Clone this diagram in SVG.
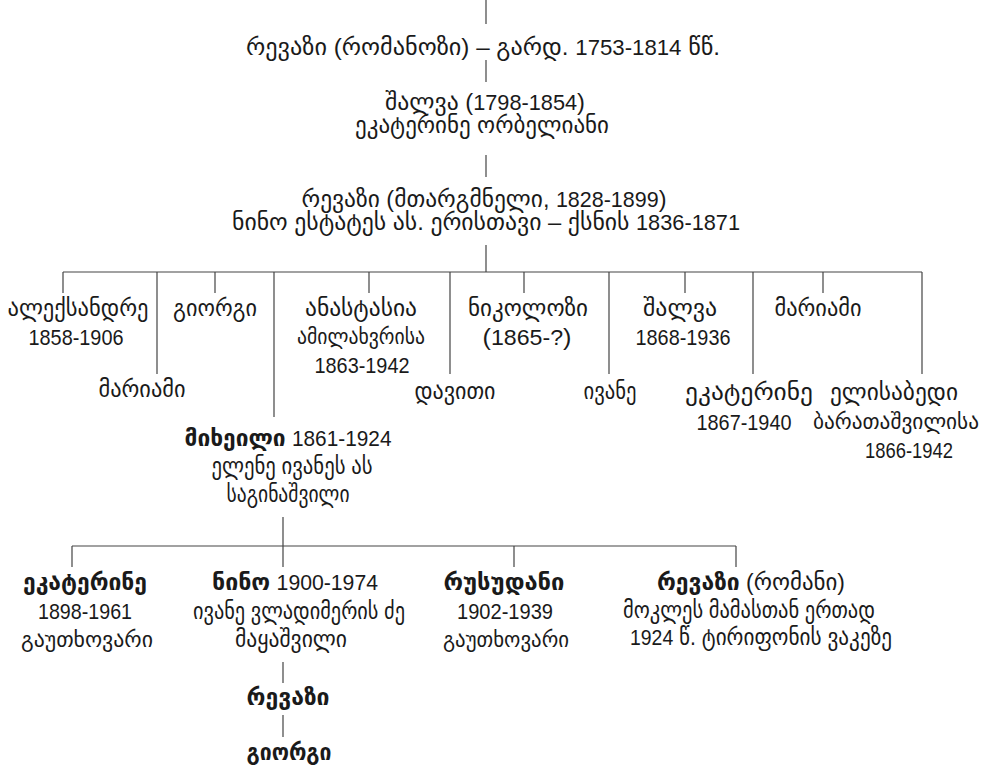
<svg xmlns="http://www.w3.org/2000/svg" width="981" height="769" viewBox="0 0 981 769">
<style>
text{font-family:"Liberation Sans","DejaVu Sans",sans-serif;font-size:24px;fill:#1a1a1a;text-anchor:middle}
.s{font-size:21px}
.b{font-weight:bold}
.d{font-size:22px}
.c line{stroke:#444;stroke-width:1.2}
</style>
<rect width="981" height="769" fill="#fff"/>
<g class="c" id="connectors">
<line x1="486" y1="0" x2="486" y2="24"/>
<line x1="486" y1="60" x2="486" y2="82"/>
<line x1="486" y1="155" x2="486" y2="177"/>
<line x1="486" y1="245" x2="486" y2="272"/>
<line x1="63" y1="272" x2="922" y2="272"/>
<line x1="63" y1="272" x2="63" y2="293"/>
<line x1="157" y1="272" x2="157" y2="374"/>
<line x1="215" y1="272" x2="215" y2="293"/>
<line x1="274" y1="272" x2="274" y2="417"/>
<line x1="369" y1="272" x2="369" y2="293"/>
<line x1="450" y1="272" x2="450" y2="374"/>
<line x1="524" y1="272" x2="524" y2="293"/>
<line x1="609" y1="272" x2="609" y2="374"/>
<line x1="685" y1="272" x2="685" y2="293"/>
<line x1="753" y1="272" x2="753" y2="374"/>
<line x1="823" y1="272" x2="823" y2="293"/>
<line x1="922" y1="272" x2="922" y2="374"/>
<line x1="283" y1="517" x2="283" y2="546"/>
<line x1="72" y1="546" x2="736" y2="546"/>
<line x1="72" y1="546" x2="72" y2="567"/>
<line x1="283" y1="546" x2="283" y2="567"/>
<line x1="514" y1="546" x2="514" y2="567"/>
<line x1="736" y1="546" x2="736" y2="567"/>
<line x1="283" y1="662" x2="283" y2="683"/>
<line x1="283" y1="715" x2="283" y2="737"/>
</g>
<g id="n-revazi-romanozi"><text x="483" y="55" textLength="474" lengthAdjust="spacingAndGlyphs">რევაზი (რომანოზი) – გარდ. <tspan class="d">1753-1814</tspan> წწ.</text></g>
<g id="n-shalva"><text x="485" y="110" textLength="200" lengthAdjust="spacingAndGlyphs">შალვა (<tspan class="d">1798-1854</tspan>)</text><text x="482" y="133" textLength="254" lengthAdjust="spacingAndGlyphs">ეკატერინე ორბელიანი</text></g>
<g id="n-revazi-targmneli"><text x="484" y="207" textLength="365" lengthAdjust="spacingAndGlyphs">რევაზი (მთარგმნელი, <tspan class="d">1828-1899</tspan>)</text><text x="486" y="230" textLength="508" lengthAdjust="spacingAndGlyphs">ნინო ესტატეს ას. ერისთავი – ქსნის <tspan class="d">1836-1871</tspan></text></g>
<g id="n-aleksandre"><text x="78" y="316" textLength="141" lengthAdjust="spacingAndGlyphs">ალექსანდრე</text><text class="d" x="76" y="345" textLength="95" lengthAdjust="spacingAndGlyphs">1858-1906</text></g>
<g id="n-mariami1"><text x="142" y="397" textLength="87" lengthAdjust="spacingAndGlyphs">მარიამი</text></g>
<g id="n-giorgi1"><text x="215" y="316" textLength="84" lengthAdjust="spacingAndGlyphs">გიორგი</text></g>
<g id="n-mikheili"><text x="288" y="446" textLength="207" lengthAdjust="spacingAndGlyphs"><tspan class="b">მიხეილი</tspan> <tspan class="d">1861-1924</tspan></text><text x="292" y="474" textLength="161" lengthAdjust="spacingAndGlyphs">ელენე ივანეს ას</text><text x="288" y="502" textLength="123" lengthAdjust="spacingAndGlyphs">საგინაშვილი</text></g>
<g id="n-anastasia"><text x="361" y="316" textLength="112" lengthAdjust="spacingAndGlyphs">ანასტასია</text><text class="s" x="361" y="344" textLength="128" lengthAdjust="spacingAndGlyphs">ამილახვრისა</text><text class="d" x="362" y="373" textLength="95" lengthAdjust="spacingAndGlyphs">1863-1942</text></g>
<g id="n-daviti"><text x="455" y="399" textLength="81" lengthAdjust="spacingAndGlyphs">დავითი</text></g>
<g id="n-nikolozi"><text x="528" y="316" textLength="120" lengthAdjust="spacingAndGlyphs">ნიკოლოზი</text><text x="527" y="345" textLength="89" lengthAdjust="spacingAndGlyphs">(<tspan class="d">1865-?</tspan>)</text></g>
<g id="n-ivane"><text x="610" y="399" textLength="53" lengthAdjust="spacingAndGlyphs">ივანე</text></g>
<g id="n-shalva2"><text x="680" y="316" textLength="74" lengthAdjust="spacingAndGlyphs">შალვა</text><text class="d" x="683" y="345" textLength="95" lengthAdjust="spacingAndGlyphs">1868-1936</text></g>
<g id="n-ekaterine1"><text x="749" y="400" textLength="128" lengthAdjust="spacingAndGlyphs">ეკატერინე</text><text class="d" x="744" y="430" textLength="95" lengthAdjust="spacingAndGlyphs">1867-1940</text></g>
<g id="n-mariami2"><text x="818" y="316" textLength="87" lengthAdjust="spacingAndGlyphs">მარიამი</text></g>
<g id="n-elisabedi"><text x="894" y="400" textLength="128" lengthAdjust="spacingAndGlyphs">ელისაბედი</text><text class="s" x="896" y="429" textLength="166" lengthAdjust="spacingAndGlyphs">ბარათაშვილისა</text><text class="d" x="909" y="458" textLength="88" lengthAdjust="spacingAndGlyphs">1866-1942</text></g>
<g id="n-ekaterine2"><text class="b" x="85" y="590" textLength="124" lengthAdjust="spacingAndGlyphs">ეკატერინე</text><text class="d" x="85" y="619" textLength="94" lengthAdjust="spacingAndGlyphs">1898-1961</text><text class="s" x="87" y="647" textLength="132" lengthAdjust="spacingAndGlyphs">გაუთხოვარი</text></g>
<g id="n-nino"><text x="295" y="590" textLength="166" lengthAdjust="spacingAndGlyphs"><tspan class="b">ნინო</tspan> <tspan class="d">1900-1974</tspan></text><text x="299" y="619" textLength="212" lengthAdjust="spacingAndGlyphs">ივანე ვლადიმერის ძე</text><text x="291" y="647" textLength="112" lengthAdjust="spacingAndGlyphs">მაყაშვილი</text></g>
<g id="n-rusudani"><text class="b" x="504" y="590" textLength="121" lengthAdjust="spacingAndGlyphs">რუსუდანი</text><text class="d" x="505" y="619" textLength="96" lengthAdjust="spacingAndGlyphs">1902-1939</text><text class="s" x="506" y="647" textLength="126" lengthAdjust="spacingAndGlyphs">გაუთხოვარი</text></g>
<g id="n-revazi-romani"><text x="751" y="590" textLength="188" lengthAdjust="spacingAndGlyphs"><tspan class="b">რევაზი</tspan> (რომანი)</text><text x="749" y="618" textLength="252" lengthAdjust="spacingAndGlyphs">მოკლეს მამასთან ერთად</text><text x="761" y="645" textLength="262" lengthAdjust="spacingAndGlyphs"><tspan class="d">1924</tspan> წ. ტირიფონის ვაკეზე</text></g>
<g id="n-revazi3"><text class="b" x="288" y="705" textLength="83" lengthAdjust="spacingAndGlyphs">რევაზი</text></g>
<g id="n-giorgi3"><text class="b" x="289" y="760" textLength="85" lengthAdjust="spacingAndGlyphs">გიორგი</text></g>
</svg>
